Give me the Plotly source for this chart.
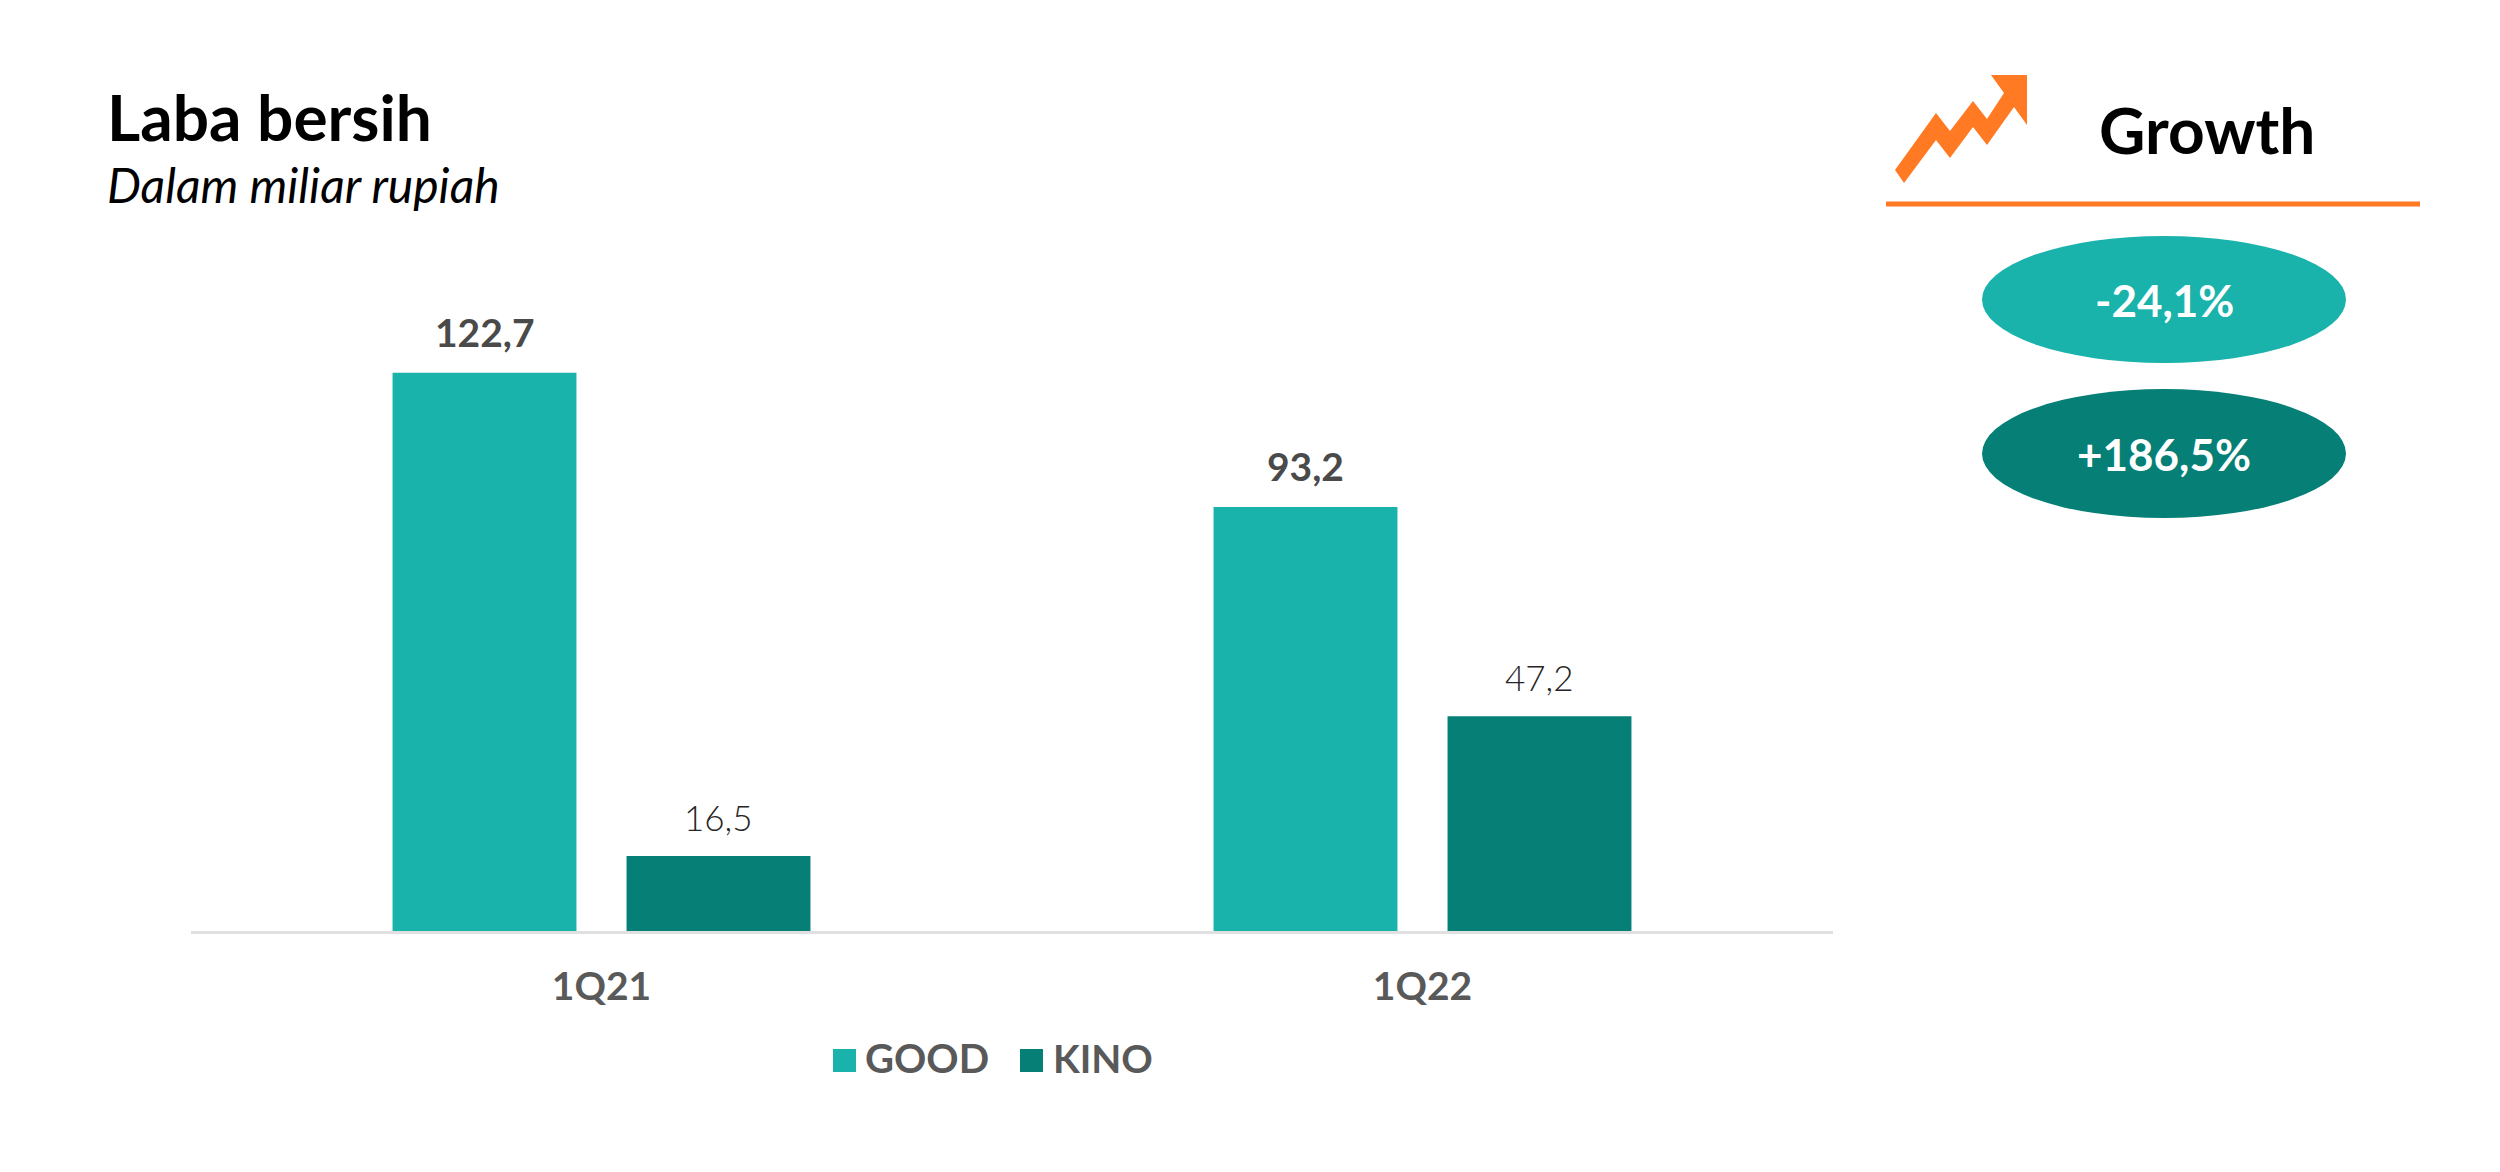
import plotly.graph_objects as go

# the page has an 8px body margin, so the figure is a little smaller than the window
PAGE_MARGIN = 8
W, H = 2500 - 2 * PAGE_MARGIN, 1172 - 2 * PAGE_MARGIN
# plot area in figure pixels
LEFT, RIGHT, BOTTOM = 183, 1825, 923
TOP = 238

quarters = ["1Q21", "1Q22"]
good = [122.7, 93.2]
kino = [16.5, 47.2]
growth_labels = ["-24,1%", "+186,5%"]

TEAL = "#1AB3AB"
DARK_TEAL = "#067F77"
ORANGE = "#FF7A22"
FONT = "Lato"


def px_x(x):
    # x, y are pixels on the page
    return (x - PAGE_MARGIN - LEFT) / (RIGHT - LEFT)


def px_y(y):
    return (BOTTOM - (y - PAGE_MARGIN)) / (BOTTOM - TOP)


def polygon_path(points):
    coords = [f"{px_x(x):.5f},{px_y(y):.5f}" for x, y in points]
    return "M" + "L".join(coords) + "Z"


fig = go.Figure()
fig.add_bar(x=quarters, y=good, name="GOOD", marker_color=TEAL, marker_line_width=0)
fig.add_bar(x=quarters, y=kino, name="KINO", marker_color=DARK_TEAL, marker_line_width=0)

annotations = []


def page_text(text, x, y, size, color, weight=400, style="normal", anchor="center"):
    annotations.append(dict(
        text=text, x=px_x(x), y=px_y(y), xref="paper", yref="paper",
        xanchor=anchor, yanchor="middle", showarrow=False,
        font=dict(family=FONT, size=size, color=color, weight=weight, style=style),
    ))


# value labels sit a little above the bars, so they are annotations rather than bar text
for q, g, k in zip(quarters, good, kino):
    annotations.append(dict(
        text=f"{g:.1f}".replace(".", ","), x=q, y=g, xref="x", yref="y",
        xshift=-117, yshift=16, yanchor="bottom", showarrow=False,
        font=dict(family=FONT, size=39, color="#4A4A4A", weight=700),
    ))
    annotations.append(dict(
        text=f"{k:.1f}".replace(".", ","), x=q, y=k, xref="x", yref="y",
        xshift=117, yshift=16, yanchor="bottom", showarrow=False,
        font=dict(family=FONT, size=35, color="#262626", weight=300),
    ))

page_text("Laba bersih", 105, 117, 64, "#000000", weight=700, anchor="left")
page_text("Dalam miliar rupiah", 105, 185, 48, "#000000", style="italic", anchor="left")
page_text("Growth", 2207, 130, 64, "#000000", weight=700)
page_text(growth_labels[0], 2164, 300, 44, "#FFFFFF", weight=700)
page_text(growth_labels[1], 2164, 454, 44, "#FFFFFF", weight=700)

# legend squares are bigger than plotly's fixed bar swatch, so it is drawn by hand
page_text("GOOD", 863, 1058, 40, "#595959", weight=700, anchor="left")
page_text("KINO", 1051, 1058, 39, "#595959", weight=700, anchor="left")

arrow = [(1895, 170), (1936, 113), (1950, 131), (1973, 101), (1987, 119), (2004, 93),
         (1991, 75), (2027, 75), (2027, 125), (2014, 107), (1987, 145), (1973, 127),
         (1950, 158), (1936, 140), (1904, 183)]

shapes = [
    dict(type="path", path=polygon_path(arrow), xref="paper", yref="paper",
         fillcolor=ORANGE, line_width=0),
    dict(type="line", x0=px_x(1886), x1=px_x(2420), y0=px_y(204), y1=px_y(204),
         xref="paper", yref="paper", line=dict(color=ORANGE, width=5)),
    dict(type="circle", x0=px_x(1982), x1=px_x(2346), y0=px_y(236), y1=px_y(363),
         xref="paper", yref="paper", fillcolor=TEAL, line_width=0, layer="below"),
    dict(type="circle", x0=px_x(1982), x1=px_x(2346), y0=px_y(389), y1=px_y(518),
         xref="paper", yref="paper", fillcolor=DARK_TEAL, line_width=0, layer="below"),
    dict(type="rect", x0=px_x(833), x1=px_x(856), y0=px_y(1049), y1=px_y(1072),
         xref="paper", yref="paper", fillcolor=TEAL, line_width=0),
    dict(type="rect", x0=px_x(1020), x1=px_x(1043), y0=px_y(1049), y1=px_y(1072),
         xref="paper", yref="paper", fillcolor=DARK_TEAL, line_width=0),
]

fig.update_layout(
    width=W, height=H,
    margin=dict(l=LEFT, r=W - RIGHT, t=TOP, b=H - BOTTOM, pad=0),
    paper_bgcolor="white", plot_bgcolor="white",
    barmode="group", bargap=0.43, bargroupgap=0.214,
    font=dict(family=FONT),
    showlegend=False,
    annotations=annotations,
    shapes=shapes,
)
fig.update_xaxes(
    showgrid=False, zeroline=False, showline=True, linecolor="#E0E0E0", linewidth=3,
    ticks="", ticklabelstandoff=19,
    tickfont=dict(family=FONT, size=39, color="#595959", weight=700),
)
fig.update_yaxes(range=[0, (BOTTOM - TOP) / 4.55], showgrid=False, zeroline=False,
                 showticklabels=False, showline=False, ticks="")

fig.write_html("out.html")
